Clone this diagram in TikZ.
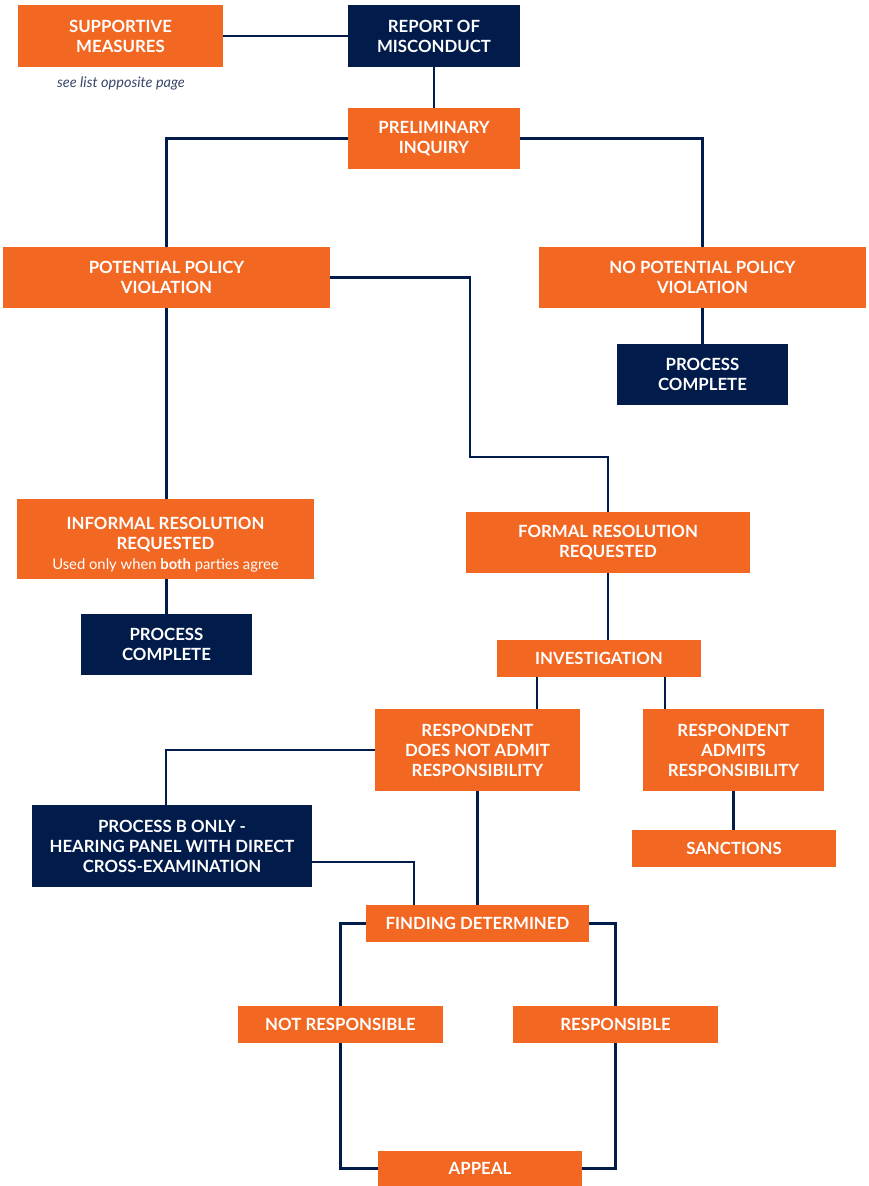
\documentclass[tikz,border=0pt]{standalone}
\usepackage{fontspec}
\setmainfont{Lato}
\definecolor{orng}{HTML}{F26722}
\definecolor{navy}{HTML}{011B4A}
\definecolor{note}{HTML}{3A4668}
\begin{document}
\begin{tikzpicture}[x=1pt,y=-1pt,
  box/.style={rectangle, inner sep=0pt, align=center, text=white,
    font=\fontsize{16.8}{20}\selectfont\bfseries},
  obox/.style={box, fill=orng},
  nbox/.style={box, fill=navy},
  conn/.style={draw=navy, line width=2.2pt}]
\useasboundingbox (0,0) rectangle (869,1186);
% nodes
\node[obox, minimum width=205pt, minimum height=62pt] (sm) at (120.5,36) {SUPPORTIVE\\MEASURES};
\node[font=\fontsize{14.5}{15}\selectfont\itshape, text=note] (note) at (121,83) {see list opposite page};
\node[nbox, minimum width=172pt, minimum height=62pt] (rep) at (434,36) {REPORT OF\\MISCONDUCT};
\node[obox, minimum width=172pt, minimum height=61pt] (pre) at (434,138.5) {PRELIMINARY\\INQUIRY};
\node[obox, minimum width=327pt, minimum height=61pt] (pot) at (166.5,277.5) {POTENTIAL POLICY\\VIOLATION};
\node[obox, minimum width=327pt, minimum height=61pt] (nopot) at (702.5,277.5) {NO POTENTIAL POLICY\\VIOLATION};
\node[nbox, minimum width=171pt, minimum height=61pt] (pc1) at (702.5,374.5) {PROCESS\\COMPLETE};
\node[obox, minimum width=297pt, minimum height=80pt] (inf) at (165.5,539) {\rule{0pt}{24pt}INFORMAL RESOLUTION\\REQUESTED\\{\fontsize{14.8}{20}\selectfont\mdseries Used only when \textbf{both} parties agree}};
\node[nbox, minimum width=171pt, minimum height=61pt] (pc2) at (166.5,644.5) {PROCESS\\COMPLETE};
\node[obox, minimum width=284pt, minimum height=61pt] (form) at (608,542.5) {FORMAL RESOLUTION\\REQUESTED};
\node[obox, minimum width=204pt, minimum height=37pt] (inv) at (599,658.5) {INVESTIGATION};
\node[obox, minimum width=205pt, minimum height=82pt] (rna) at (477.5,750) {RESPONDENT\\DOES NOT ADMIT\\RESPONSIBILITY};
\node[obox, minimum width=181pt, minimum height=82pt] (ra) at (733.5,750) {RESPONDENT\\ADMITS\\RESPONSIBILITY};
\node[nbox, minimum width=280pt, minimum height=82pt] (pb) at (172,846) {PROCESS B ONLY -\\HEARING PANEL WITH DIRECT\\CROSS-EXAMINATION};
\node[obox, minimum width=204pt, minimum height=37pt] (sanc) at (734,848.5) {SANCTIONS};
\node[obox, minimum width=223pt, minimum height=37pt] (fd) at (477.5,923.5) {FINDING DETERMINED};
\node[obox, minimum width=205pt, minimum height=37pt] (nr) at (340.5,1024.5) {NOT RESPONSIBLE};
\node[obox, minimum width=205pt, minimum height=37pt] (r) at (615.5,1024.5) {RESPONSIBLE};
\node[obox, minimum width=204pt, minimum height=35pt] (ap) at (480,1168.5) {APPEAL};
\coordinate (k1) at (470,457);
% connectors
\draw[conn] (sm.east) -- (rep.west);
\draw[conn] (rep.south) -- (pre.north);
\draw[conn] (pre.west) -| (pot.north);
\draw[conn] (pre.east) -| (nopot.north);
\draw[conn] (nopot.south) -- (pc1.north);
\draw[conn] (pot.south) -- (pot.south |- inf.north);
\draw[conn] (pot.east) -| (k1) -| (form.north);
\draw[conn] (inf.south -| pc2.north) -- (pc2.north);
\draw[conn] (form.south) -- (form.south |- inv.north);
\draw[conn] ([xshift=-62pt]inv.south) -- ([xshift=-62pt]inv.south |- rna.north);
\draw[conn] ([xshift=66pt]inv.south) -- ([xshift=66pt]inv.south |- ra.north);
\draw[conn] (rna.west) -| ([xshift=-6pt]pb.north);
\draw[conn] ([yshift=-16pt]pb.east) -| ([xshift=-63.5pt]fd.north);
\draw[conn] (rna.south) -- (fd.north);
\draw[conn] (ra.south) -- (ra.south |- sanc.north);
\draw[conn] (fd.west) -| (nr.north);
\draw[conn] (fd.east) -| (r.north);
\draw[conn] (nr.south) |- (ap.west);
\draw[conn] (r.south) |- (ap.east);
\end{tikzpicture}
\end{document}
